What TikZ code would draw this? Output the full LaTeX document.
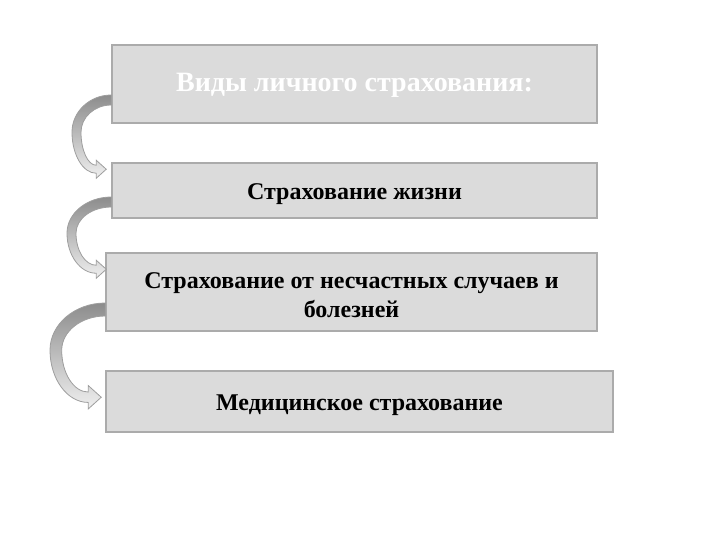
\documentclass[tikz,border=0pt]{standalone}
\usepackage{fontspec}
\setmainfont{Liberation Serif}
\usetikzlibrary{calc}

% curved arrow: #1 tail (top edge), #2 tip, #3 leftmost x, #4 thickness
\newcommand\bendarrow[4]{%
\path[bend arrow] let \p1=(#1), \p2=(#2), \n1={#4}, \n2={((\y1)+(\y2))/2}, \n3={(\x2)-(\n1)} in
  (\x1,\y1)
  .. controls ({(\x1)-0.55*((\x1)-#3)},\y1) and (#3,{(\n2)+0.55*((\y1)-(\n2))}) .. (#3,\n2)
  .. controls (#3,{(\n2)-0.55*((\n2)-(\y2)+0.4*(\n1))}) and ({(\n3)-0.55*((\n3)-#3)},{(\y2)-0.4*(\n1)}) .. (\n3,{(\y2)-0.4*(\n1)})
  -- (\n3,{(\y2)-0.9*(\n1)}) -- (\x2,\y2) -- (\n3,{(\y2)+0.9*(\n1)}) -- (\n3,{(\y2)+0.4*(\n1)})
  .. controls ({(\n3)-0.55*((\n3)-#3-0.9*(\n1))},{(\y2)+0.4*(\n1)}) and ({#3+0.9*(\n1)},{(\n2)-0.55*((\n2)-(\y2)-0.4*(\n1))}) .. ({#3+0.9*(\n1)},\n2)
  .. controls ({#3+0.9*(\n1)},{(\n2)+0.55*((\y1)-(\n1)-(\n2))}) and ({(\x1)-0.55*((\x1)-#3-0.9*(\n1))},{(\y1)-(\n1)}) .. (\x1,{(\y1)-(\n1)})
  -- cycle;}

\begin{document}
\begin{tikzpicture}[x=1pt,y=-1pt]
\tikzstyle{kind}=[draw=black!33,line width=1.5pt,fill=black!14,inner sep=0pt,text height=17.5pt,text depth=0pt,font=\bfseries\fontsize{24}{29}\selectfont]
\tikzstyle{title kind}=[kind,text=white,text height=15.5pt,font=\bfseries\fontsize{28}{32}\selectfont]
\tikzstyle{bend arrow}=[draw=black!38,line width=0.8pt,top color=black!45,bottom color=black!6]

\useasboundingbox (0,0) rectangle (720,540);

% the boxes
\node[title kind,minimum width=485pt,minimum height=78pt] (types) at (354.5,84) {Виды личного страхования:};
\node[kind,minimum width=485pt,minimum height=55pt] (life) at (354.5,190.5) {Страхование жизни};
\node[kind,minimum width=491pt,minimum height=78pt,align=center,text height=50.6pt] (accident) at (351.5,292) {Страхование от несчастных случаев и\\болезней};
\node[kind,minimum width=507pt,minimum height=61pt] (medical) at (359.5,401.5) {Медицинское страхование};

% the curved arrows on the left
\bendarrow{$(types.west)+(0,11)$}{$(life.north west)+(-5,7)$}{72pt}{10pt}
\bendarrow{$(life.west)+(0,6.5)$}{$(accident.north west)+(1,17)$}{67pt}{10pt}
\bendarrow{$(accident.west)+(0,11)$}{$(medical.north west)+(-4,27)$}{50pt}{13pt}
\end{tikzpicture}
\end{document}
